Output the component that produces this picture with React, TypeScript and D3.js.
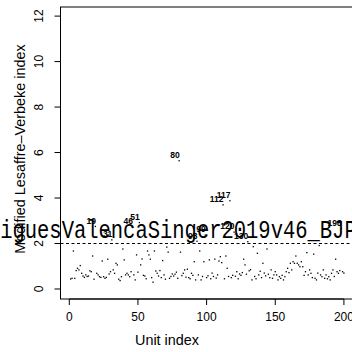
import React from "react";
import * as d3 from "d3";

// ---- data ----
const lmvIndex: number[] = [
  0.44, 0.47, 1.67, 0.47, 0.81, 0.91, 0.84, 1.03, 0.69, 0.57,
  0.51, 0.62, 0.55, 0.57, 0.8, 0.76, 1.45, 0.43, 2.75, 0.69,
  0.62, 0.54, 0.51, 1.23, 0.54, 0.47, 0.51, 1.31, 0.66, 0.76,
  2.16, 0.84, 0.69, 1.13, 1.06, 0.43, 0.37, 0.54, 1.76, 1.28,
  0.62, 0.69, 0.62, 0.54, 0.76, 2.72, 0.62, 0.4, 1.5, 0.74,
  2.92, 1.06, 1.32, 0.6, 0.57, 0.45, 1.67, 1.5, 1.31, 0.5,
  0.3, 1.67, 0.79, 0.69, 0.57, 0.81, 0.5, 1.25, 0.62, 0.43,
  1.84, 1.62, 0.47, 0.55, 0.66, 0.57, 0.65, 0.74, 0.47, 5.64,
  1.62, 0.59, 0.69, 0.84, 0.52, 0.87, 0.5, 0.45, 0.69, 0.6,
  1.2, 0.4, 2.1, 0.62, 1.67, 0.4, 0.55, 1.2, 2.37, 0.5,
  0.58, 1.28, 0.45, 0.7, 0.55, 1.31, 0.48, 0.62, 1.23, 1.42,
  1.16, 3.7, 0.45, 1.45, 0.91, 0.55, 3.88, 0.5, 0.6, 2.5,
  0.56, 0.76, 0.45, 0.66, 0.6, 0.72, 1.31, 1.06, 0.65, 2.08,
  0.8, 0.85, 0.4, 1.86, 0.55, 0.45, 1.57, 0.62, 0.78, 0.5,
  1.13, 0.7, 0.58, 1.76, 0.65, 0.5, 0.84, 0.47, 0.62, 0.76,
  0.62, 0.4, 0.54, 0.47, 0.6, 0.4, 0.54, 0.76, 0.91, 0.72,
  1.13, 0.84, 1.2, 1.13, 1.45, 1.13, 1.06, 0.98, 1.2, 0.98,
  0.6, 0.76, 1.6, 0.62, 0.84, 0.69, 0.5, 1.53, 0.47, 0.4,
  0.7, 1.91, 0.62, 0.54, 0.84, 0.47, 0.62, 0.45, 0.54, 0.4,
  0.69, 0.84, 0.55, 1.31, 0.76, 0.69, 0.81, 2.65, 0.76, 0.7,
];
const unitIndex: number[] = lmvIndex.map((_, i) => i + 1);
const labelledUnits: number[] = [19, 31, 46, 51, 80, 93, 99, 112, 117, 120, 130, 198];
const xTicks: number[] = [0, 50, 100, 150, 200];
const yTicks: number[] = [0, 2, 4, 6, 8, 10, 12];
const cutoff = 2;
const xTitle = "Unit index";
const yTitle = "Modified Lesaffre\u2013Verbeke index";
const watermark = "RodriguesValencaSinger2019v46_BJPS";

const W = 352;
const H = 352;
const box = { left: 60.5, right: 352.7, top: 7, bottom: 299 };

export default function App() {
  const x = d3.scaleLinear().domain([-6.4, 206.4]).range([box.left, box.right]);
  const y = d3.scaleLinear().domain([-0.44, 12.4]).range([box.bottom, box.top]);
  const sans = "'Liberation Sans', Arial, Helvetica, sans-serif";

  return (
    <svg
      width={W}
      height={H}
      style={{ position: "fixed", left: 0, top: 0, background: "#fff" }}
      xmlns="http://www.w3.org/2000/svg"
    >
      <rect x={0} y={0} width={W} height={H} fill="#fff" />
      {/* points */}
      {unitIndex.map((u, i) => (
        <rect
          key={u}
          x={x(u) - 0.65}
          y={y(lmvIndex[i]) - 0.65}
          width={1.3}
          height={1.3}
          fill="#000"
        />
      ))}
      {/* labels */}
      {labelledUnits.map((u) => (
        <text
          key={"l" + u}
          x={x(u) + 0.5}
          y={y(lmvIndex[u - 1]) - 2.7}
          textAnchor="end"
          fontFamily={sans}
          fontWeight="bold"
          fontSize={8.5}
          fill="#000"
        >
          {u}
        </text>
      ))}
      {/* cutoff line */}
      <line
        x1={box.left}
        x2={box.right}
        y1={y(cutoff)}
        y2={y(cutoff)}
        stroke="#000"
        strokeWidth={1}
        strokeDasharray="3,2.5"
      />
      {/* box */}
      <rect
        x={box.left}
        y={box.top}
        width={box.right - box.left}
        height={box.bottom - box.top}
        fill="none"
        stroke="#000"
        strokeWidth={1}
      />
      {/* x axis */}
      <line x1={x(0)} x2={x(200)} y1={box.bottom} y2={box.bottom} stroke="#000" strokeWidth={1} />
      {xTicks.map((t) => (
        <g key={"xt" + t}>
          <line x1={x(t)} x2={x(t)} y1={box.bottom} y2={box.bottom + 6} stroke="#000" />
          <text x={x(t)} y={321} textAnchor="middle" fontFamily={sans} fontSize={12} fill="#000">
            {t}
          </text>
        </g>
      ))}
      {/* y axis */}
      {yTicks.map((t) => (
        <g key={"yt" + t}>
          <line x1={box.left - 6} x2={box.left} y1={y(t)} y2={y(t)} stroke="#000" />
          <text
            transform={`translate(43,${y(t)}) rotate(-90)`}
            textAnchor="middle"
            fontFamily={sans}
            fontSize={12}
            fill="#000"
          >
            {t}
          </text>
        </g>
      ))}
      <text x={167} y={345} textAnchor="middle" fontFamily={sans} fontSize={14.4} fill="#000">
        {xTitle}
      </text>
      <text
        transform={`translate(25,149) rotate(-90)`}
        textAnchor="middle"
        fontFamily={sans}
        fontSize={14.4}
        fill="#000"
      >
        {yTitle}
      </text>
      {/* watermark */}
      <text
        transform="translate(-49,237.7) scale(1,1.24)"
        x={0}
        y={0}
        fontFamily="'Liberation Mono', 'Courier New', monospace"
        fontSize={20.5}
        textLength={418}
        lengthAdjust="spacingAndGlyphs"
        fill="#000"
      >
        {watermark}
      </text>
    </svg>
  );
}
